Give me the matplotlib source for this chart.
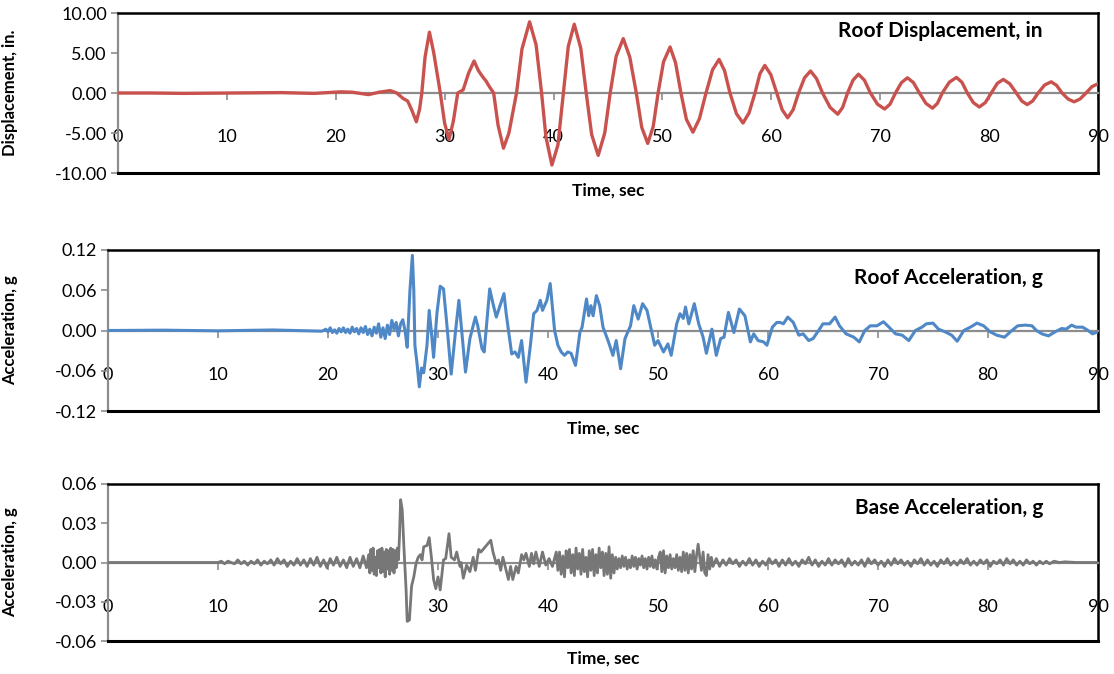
import numpy as np
import matplotlib.pyplot as plt
from matplotlib.ticker import FormatStrFormatter

plt.rcParams['font.family'] = ['Lato', 'DejaVu Sans']
plt.rcParams['axes.unicode_minus'] = False

# ---- Roof displacement (in) ----
disp_t = [0, 3, 6, 10, 15, 18, 20.5, 21.5, 23, 24, 25, 25.6, 26.2, 26.6, 27.0, 27.4, 27.7, 27.9,
          28.2, 28.6, 29.0, 29.6, 30.0, 30.4, 30.8, 31.2, 31.7, 32.2, 32.7, 33.1, 33.5, 33.8, 34.1,
          34.5, 34.9, 35.4, 35.9, 36.6, 37.1, 37.8, 38.4, 38.9, 39.3, 39.85, 40.4, 40.9, 41.35,
          41.9, 42.5, 43.0, 43.5, 44.1, 44.7, 45.2, 45.75, 46.4, 47.0, 47.6, 48.1, 48.65, 49.15,
          49.6, 50.1, 50.7, 51.2, 51.7, 52.2, 52.8, 53.4, 54.0, 54.6, 55.2, 55.7, 56.2, 56.8,
          57.4, 57.95, 58.5, 58.95, 59.4, 59.95, 60.5, 61.0, 61.5, 62.0, 62.5, 63.05, 63.6, 64.15,
          64.7, 65.4, 66.1, 66.55, 67.0, 67.5, 68.0, 68.55, 69.1, 69.75, 70.4, 70.9, 71.4, 71.95,
          72.5, 73.05, 73.6, 74.2, 74.8, 75.25, 75.7, 76.35, 77.0, 77.5, 78.0, 78.55, 79.1, 79.65,
          80.2, 80.75, 81.3, 81.9, 82.5, 83.0, 83.5, 84.0, 84.5, 85.1, 85.7, 86.2, 86.7, 87.25,
          87.8, 88.35, 88.9, 89.45, 90.0]
disp_in = [0.0, 0.0, -0.05, 0.0, 0.05, -0.05, 0.15, 0.1, -0.2, 0.1, 0.3, 0.0, -0.7, -1.0, -2.2, -3.6, -2.0, 0.0,
           4.5, 7.6, 5.0, 0.0, -3.8, -5.8, -3.5, 0.0, 0.4, 2.5, 4.0, 2.8, 2.0, 1.5, 0.8,
           0.0, -4.0, -6.9, -5.0, 0.0, 5.5, 8.9, 6.0, 0.0, -5.5, -9.0, -6.5, 0.0, 5.8,
           8.6, 5.6, 0.0, -5.2, -7.8, -5.0, 0.0, 4.6, 6.8, 4.5, 0.0, -4.3, -6.3, -4.2,
           0.0, 3.9, 5.75, 3.8, 0.0, -3.3, -4.9, -3.2, 0.0, 2.9, 4.2, 2.8, 0.0, -2.6,
           -3.75, -2.5, 0.0, 2.4, 3.45, 2.3, 0.0, -2.1, -3.1, -2.1, 0.0, 1.9, 2.75, 1.8,
           0.0, -1.8, -2.65, -1.8, 0.0, 1.6, 2.35, 1.6, 0.0, -1.4, -2.0, -1.4, 0.0, 1.3,
           1.9, 1.3, 0.0, -1.3, -1.9, -1.3, 0.0, 1.35, 1.95, 1.35, 0.0, -1.2, -1.75, -1.2,
           0.0, 1.2, 1.7, 1.15, 0.0, -1.0, -1.45, -1.0, 0.0, 1.0, 1.4, 0.95, 0.0, -0.75,
           -1.1, -0.75, 0.0, 0.8, 1.15]

# ---- Roof acceleration (g) ----
roof_quiet_t = [0, 5, 10, 15, 19.4]
roof_quiet_g = [0.0, 0.0005, -0.0005, 0.0008, -0.001]
roof_noise_t0 = 19.6   # sampled every 0.2 s
roof_noise_g = [0.000, 0.002, -0.002, 0.004, -0.003, 0.001, -0.004, 0.003, -0.002, 0.004,
                -0.003, 0.002, -0.004, 0.005, -0.002, 0.003, -0.005, 0.004, -0.003, 0.006,
                -0.006, 0.002, -0.008, 0.005, -0.004, 0.010, -0.010, 0.004, -0.012, 0.008,
                -0.006, 0.015, 0.002, 0.012, -0.008, 0.010, 0.016, 0.000]
roof_t = [27.2, 27.45, 27.67, 27.8, 27.9, 28.1, 28.3, 28.5, 28.7, 29.0, 29.2, 29.4, 29.6, 29.9,
          30.2, 30.5, 30.8, 31.2, 31.6, 31.9, 32.2, 32.5, 32.9, 33.4, 33.6, 34.0, 34.2, 34.7,
          35.0, 35.3, 36.0, 36.2, 36.7, 37.0, 37.3, 37.6, 38.0, 38.4, 38.7, 39.0, 39.3, 39.5,
          39.9, 40.2, 40.6, 40.9, 41.2, 41.5, 41.8, 42.1, 42.5, 42.9, 43.1, 43.5, 43.7, 43.9,
          44.1, 44.4, 44.7, 45.0, 45.5, 45.9, 46.2, 46.6, 47.0, 47.5, 47.8, 48.2, 48.6, 49.0,
          49.4, 49.7, 50.0, 50.5, 50.9, 51.2, 51.7, 52.0, 52.3, 52.5, 52.8, 53.3, 53.7, 54.1,
          54.4, 54.9, 55.3, 55.7, 56.0, 56.4, 56.9, 57.4, 57.9, 58.4, 58.7, 59.1, 59.6, 59.9,
          60.4, 60.8, 61.1, 61.4, 61.8, 62.3, 62.8, 63.2, 63.7, 64.1, 64.6, 65.0, 65.6, 66.1,
          66.5, 67.1, 67.8, 68.3, 68.8, 69.3, 69.9, 70.5, 71.0, 71.6, 72.2, 72.8, 73.4, 74.0,
          74.4, 75.0, 75.5, 76.1, 76.7, 77.2, 77.8, 78.4, 79.0, 79.6, 80.2, 80.8, 81.5, 82.1,
          82.7, 83.4, 84.0, 84.4, 84.9, 85.5, 86.1, 86.7, 87.1, 87.6, 88.0, 88.6, 89.1, 89.5, 90.0]
roof_g = [-0.025, 0.060, 0.112, 0.060, -0.022, -0.050, -0.084, -0.056, -0.063, -0.022, 0.030, -0.003, -0.040, 0.025,
          0.066, 0.062, 0.010, -0.065, 0.000, 0.045, -0.008, -0.062, -0.012, 0.020, 0.008, -0.027, -0.032, 0.062,
          0.040, 0.020, 0.055, 0.025, -0.035, -0.032, -0.040, -0.015, -0.077, -0.022, 0.025, 0.030, 0.045, 0.030,
          0.045, 0.070, 0.000, -0.022, -0.032, -0.037, -0.032, -0.034, -0.052, -0.003, 0.005, 0.047, 0.022, 0.037,
          0.022, 0.052, 0.037, 0.005, -0.017, -0.037, -0.015, -0.057, -0.012, 0.007, 0.037, 0.017, 0.040, 0.030,
          0.000, -0.022, -0.015, -0.032, -0.020, -0.037, 0.010, 0.025, 0.018, 0.035, 0.010, 0.040, 0.010, -0.010,
          -0.034, 0.002, -0.037, -0.012, -0.010, 0.027, -0.003, 0.032, 0.022, -0.017, -0.005, -0.015, -0.017, -0.022,
          0.005, 0.012, 0.012, 0.010, 0.020, 0.012, -0.007, -0.005, -0.015, -0.012, 0.000, 0.010, 0.010, 0.020,
          0.007, -0.005, -0.010, -0.017, 0.000, 0.007, 0.007, 0.013, 0.005, -0.005, -0.007, -0.015, 0.000, 0.005,
          0.010, 0.011, 0.002, -0.002, -0.007, -0.016, 0.000, 0.005, 0.011, 0.007, -0.002, -0.007, -0.010, -0.001,
          0.007, 0.008, 0.007, 0.000, -0.005, -0.008, -0.002, 0.003, 0.002, 0.008, 0.005, 0.005, 0.000, -0.005, -0.002]

# ---- Base acceleration (g) ----
base_quiet_t = [0, 5, 9.7]
base_quiet_g = [0.0, 0.0, 0.0]
base_pre_t0 = 10.0     # sampled every 0.3 s
base_pre_g = [0.000, 0.001, -0.001, 0.001, 0.000, -0.001, 0.002, -0.001, 0.001, -0.002,
              0.001, -0.001, 0.002, -0.002, 0.001, -0.001, 0.002, -0.002, 0.003, -0.001,
              0.002, -0.003, 0.001, -0.002, 0.003, -0.002, 0.002, -0.003, 0.003, -0.002,
              0.004, -0.003, 0.002, -0.004, 0.003, -0.002, 0.004, -0.003, 0.002, -0.004,
              0.004, -0.003, 0.003, -0.004, 0.005, -0.004]
base_burst_t0 = 23.7   # sampled every 0.1 s
base_burst_g = [0.006, -0.008, 0.010, -0.006, 0.011, -0.009, 0.004, -0.010, 0.009, -0.004,
                0.010, -0.008, 0.011, -0.007, 0.008, -0.011, 0.010, -0.005, 0.009, -0.009,
                0.011, -0.006, 0.010, -0.008, 0.009, -0.004, 0.011, 0.002]
base_t = [26.5, 26.6, 26.75, 26.9, 27.1, 27.2, 27.4, 27.6, 27.8, 28.0, 28.2, 28.4, 28.55, 28.7, 29.0,
          29.2, 29.4, 29.6, 29.8, 30.0, 30.2, 30.5, 30.7, 31.0, 31.2, 31.5, 31.7, 32.0, 32.1, 32.3,
          32.6, 32.9, 33.2, 33.4, 33.7, 33.9, 34.1, 34.4, 34.8, 35.0, 35.3, 35.5, 35.7, 35.9, 36.2,
          36.4, 36.6, 36.8, 37.1, 37.3, 37.6, 37.8, 38.0, 38.3, 38.5, 38.7, 38.9, 39.2, 39.5, 39.8,
          40.1, 40.4, 40.75]
base_g = [0.020, 0.048, 0.040, 0.012, -0.021, -0.045, -0.044, -0.018, -0.011, -0.001, 0.004, 0.006, 0.002, 0.012, 0.013,
          0.019, 0.004, -0.013, -0.020, -0.011, -0.021, 0.002, 0.003, 0.022, 0.004, 0.002, 0.008, -0.003, 0.000, -0.012,
          -0.002, -0.007, 0.004, -0.006, 0.010, 0.008, 0.010, 0.013, 0.017, 0.008, -0.001, 0.002, -0.006, 0.004, -0.006,
          -0.013, -0.003, -0.013, -0.003, -0.008, 0.006, 0.002, 0.007, -0.003, 0.007, -0.001, 0.008, -0.003, 0.008, -0.002,
          0.003, -0.003, 0.008]
base_mid_t0 = 40.9     # sampled every 0.15 s
base_mid_g = [-0.006, 0.008, -0.009, 0.005, -0.011, 0.009, -0.004, 0.010, -0.008, 0.006,
              -0.010, 0.011, -0.005, 0.007, -0.009, 0.010, -0.007, 0.004, -0.011, 0.009,
              -0.006, 0.010, -0.010, 0.006, -0.008, 0.011, -0.004, 0.008, -0.010, 0.007,
              -0.009, 0.012, -0.012, 0.006, -0.008,
              0.004, -0.005, 0.003, -0.004, 0.005, -0.003, 0.004, -0.005, 0.002, -0.004,
              0.005, -0.003, 0.004, -0.005, 0.003, -0.002, 0.005, -0.004, 0.003, -0.005,
              0.004, -0.003, 0.005, -0.004, 0.002, -0.005, 0.004, 0.008, -0.007, 0.009,
              -0.008, 0.005, -0.004, 0.006, -0.005, 0.003, -0.004, 0.006, -0.006, 0.004,
              -0.007, 0.008, -0.006, 0.007, -0.008, 0.006, -0.005, 0.009, -0.007, 0.005,
              0.014, 0.004, -0.006, 0.008, -0.008, -0.010, 0.006, -0.005, 0.004, -0.003]
base_tail_t0 = 55.3    # sampled every 0.3 s
base_tail_g = [0.003, -0.003, 0.002, -0.002, 0.003, -0.001, 0.002, -0.003, 0.001, -0.002,
               0.003, -0.002, 0.002, -0.003, 0.001, -0.002, 0.003, -0.001, 0.002, -0.003,
               0.002, -0.002, 0.003, -0.002, 0.001, -0.003, 0.002, -0.001, 0.004, -0.002,
               0.002, -0.003, 0.001, -0.002, 0.003, -0.002, 0.002, -0.001, 0.002, -0.003,
               0.003, -0.002, 0.001, -0.002, 0.002, -0.003, 0.003, -0.001, 0.002, -0.002,
               0.001, -0.003, 0.002, -0.002, 0.003, -0.001, 0.002, -0.002, 0.001, -0.003,
               0.002, -0.001, 0.003, -0.002, 0.002, -0.002, 0.001, -0.003, 0.002, -0.001,
               0.003, -0.002, 0.001, -0.002, 0.002, -0.001, 0.003, -0.002, 0.001, -0.002,
               0.002, -0.001, 0.002, -0.003, 0.001, -0.001, 0.002, -0.002, 0.003, -0.001,
               0.002, -0.002, 0.001, -0.002, 0.002, -0.001, 0.001, -0.002, 0.001, -0.001]
base_end_t = [85.3, 85.6, 86.0, 86.5, 87.0, 88.0, 90.0]
base_end_g = [0.001, -0.001, 0.001, 0.0, 0.0005, 0.0, 0.0]


def sampled(t0, step, vals):
    return list(t0 + step * np.arange(len(vals)))


roof_all_t = roof_quiet_t + sampled(roof_noise_t0, 0.2, roof_noise_g) + roof_t
roof_all_g = roof_quiet_g + roof_noise_g + roof_g
base_all_t = (base_quiet_t + sampled(base_pre_t0, 0.3, base_pre_g) + sampled(base_burst_t0, 0.1, base_burst_g)
              + base_t + sampled(base_mid_t0, 0.15, base_mid_g) + sampled(base_tail_t0, 0.3, base_tail_g) + base_end_t)
base_all_g = base_quiet_g + base_pre_g + base_burst_g + base_g + base_mid_g + base_tail_g + base_end_g

W, H = 1114, 674
fig = plt.figure(figsize=(W / 100, H / 100), dpi=100)

# panel boxes in pixels: left, right, top, bottom
panels = [
    dict(box=(118, 1098, 13, 173), t=disp_t, y=disp_in, color='#C9524E', lw=2.4, lim=10.0, step=5.0,
         ylabel='Displacement, in.', title='Roof Displacement, in', ty=31),
    dict(box=(108, 1098, 250, 411), t=roof_all_t, y=roof_all_g, color='#4F88C6', lw=2.2, lim=0.12, step=0.06,
         ylabel='Acceleration, g', title='Roof Acceleration, g', ty=278),
    dict(box=(108, 1098, 484, 641), t=base_all_t, y=base_all_g, color='#777777', lw=2.0, lim=0.06, step=0.03,
         ylabel='Acceleration, g', title='Base Acceleration, g', ty=508),
]

axis_gray = '#8C8C8C'
for p in panels:
    l, r, top, bot = p['box']
    ax = fig.add_axes([l / W, 1 - bot / H, (r - l) / W, (bot - top) / H])
    ax.plot(p['t'], p['y'], color=p['color'], lw=p['lw'], solid_joinstyle='round', zorder=3)
    ax.set_xlim(0, 90)
    ax.set_ylim(-p['lim'], p['lim'])
    ax.set_xticks(np.arange(0, 91, 10))
    ax.set_yticks(np.arange(-2, 3) * p['step'])
    ax.yaxis.set_major_formatter(FormatStrFormatter('%.2f'))

    ax.spines['bottom'].set_position(('data', 0))
    ax.spines['bottom'].set_color(axis_gray)
    ax.spines['bottom'].set_linewidth(1.6)
    ax.spines['left'].set_color(axis_gray)
    ax.spines['left'].set_linewidth(1.6)
    for s in ('top', 'right'):
        ax.spines[s].set_color('black')
        ax.spines[s].set_linewidth(1.8)
    ax.axhline(-p['lim'], color='black', lw=2.2, clip_on=False, zorder=4)

    ax.tick_params(axis='x', direction='out', length=5, width=1.2, color=axis_gray,
                   labelsize=13, pad=21, labelcolor='black')
    ax.tick_params(axis='y', direction='out', length=5, width=1.2, color=axis_gray,
                   labelsize=13, pad=3, labelcolor='black')

    ax.set_ylabel(p['ylabel'], fontsize=12, fontweight='bold')
    ax.yaxis.set_label_coords((18 - l) / (r - l), 0.5)
    ax.text((1043 - l) / (r - l), (bot - p['ty']) / (bot - top), p['title'], transform=ax.transAxes,
            ha='right', va='center', fontsize=15, fontweight='bold')
    fig.text((l + r) / 2 / W, 1 - (bot + 18) / H, 'Time, sec', ha='center', va='center',
             fontsize=12.5, fontweight='bold')

fig.savefig('out.png', dpi=100)
